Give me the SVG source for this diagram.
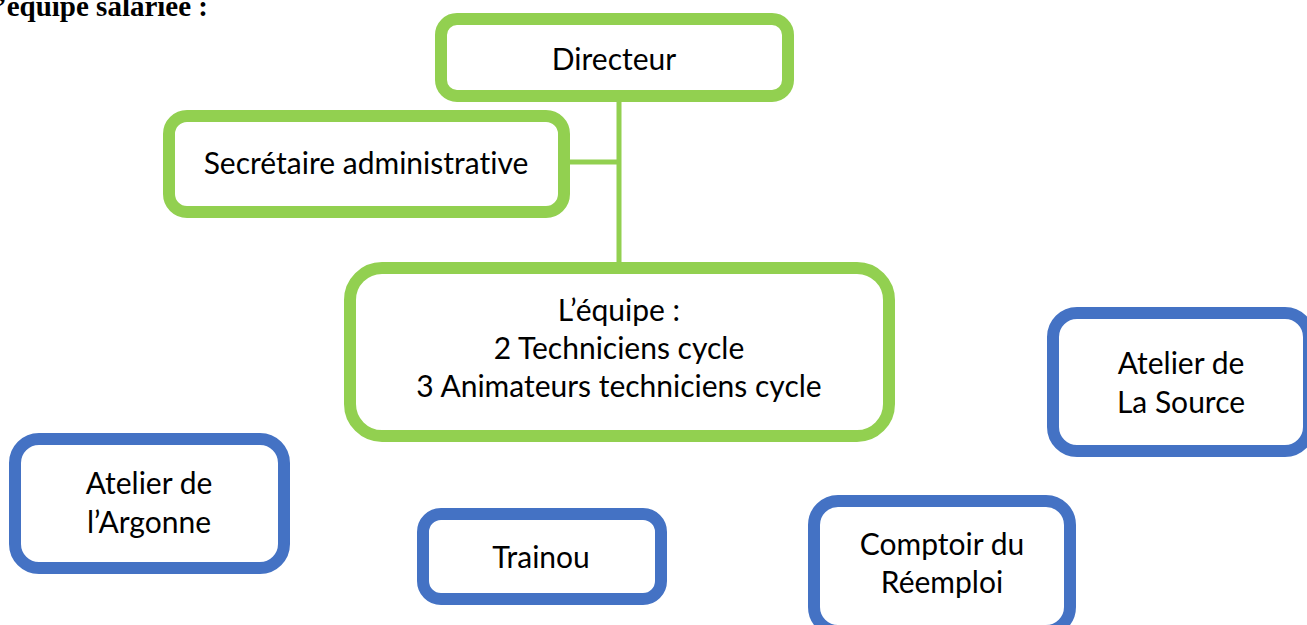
<svg xmlns="http://www.w3.org/2000/svg" width="1307" height="625" viewBox="0 0 1307 625">
<style>
.g{fill:#fff;stroke:#92D050;stroke-width:12}
.b{fill:#fff;stroke:#4472C4;stroke-width:12}
.t{font-family:Lato,"Open Sans","Liberation Sans",sans-serif;font-size:30px;fill:#000;text-anchor:middle;font-variant-ligatures:none}
.c{stroke:#92D050;stroke-width:5;fill:none}
.h{font-family:"Liberation Serif",serif;font-weight:bold;font-size:29px;fill:#000}
</style>
<rect width="1307" height="625" fill="#fff"/>
<text class="h" x="-3" y="16">’équipe salariée :</text>
<g id="connectors">
<line class="c" x1="619" y1="100" x2="619" y2="264"/>
<line class="c" x1="566" y1="162" x2="619" y2="162"/>
</g>
<g id="directeur">
<rect class="g" x="441" y="19" width="347" height="77" rx="16"/>
<text class="t" x="614" y="70">Directeur</text>
</g>
<g id="secretaire">
<rect class="g" x="169" y="116" width="395" height="96" rx="18"/>
<text class="t" x="366" y="174">Secrétaire administrative</text>
</g>
<g id="equipe">
<rect class="g" x="350" y="268" width="539" height="168" rx="32"/>
<text class="t" x="619" y="321">L’équipe :</text>
<text class="t" x="619" y="359">2 Techniciens cycle</text>
<text class="t" x="619" y="397">3 Animateurs techniciens cycle</text>
</g>
<g id="la-source">
<rect class="b" x="1053" y="313" width="256" height="138" rx="24"/>
<text class="t" x="1181" y="374">Atelier de</text>
<text class="t" x="1181" y="413">La Source</text>
</g>
<g id="argonne">
<rect class="b" x="15" y="439" width="269" height="129" rx="24"/>
<text class="t" x="149" y="494">Atelier de</text>
<text class="t" x="149" y="533">l’Argonne</text>
</g>
<g id="trainou">
<rect class="b" x="423" y="514" width="238" height="85" rx="18"/>
<text class="t" x="541" y="568">Trainou</text>
</g>
<g id="comptoir">
<rect class="b" x="814" y="501" width="256" height="130" rx="24"/>
<text class="t" x="942" y="555">Comptoir du</text>
<text class="t" x="942" y="593">Réemploi</text>
</g>
</svg>
